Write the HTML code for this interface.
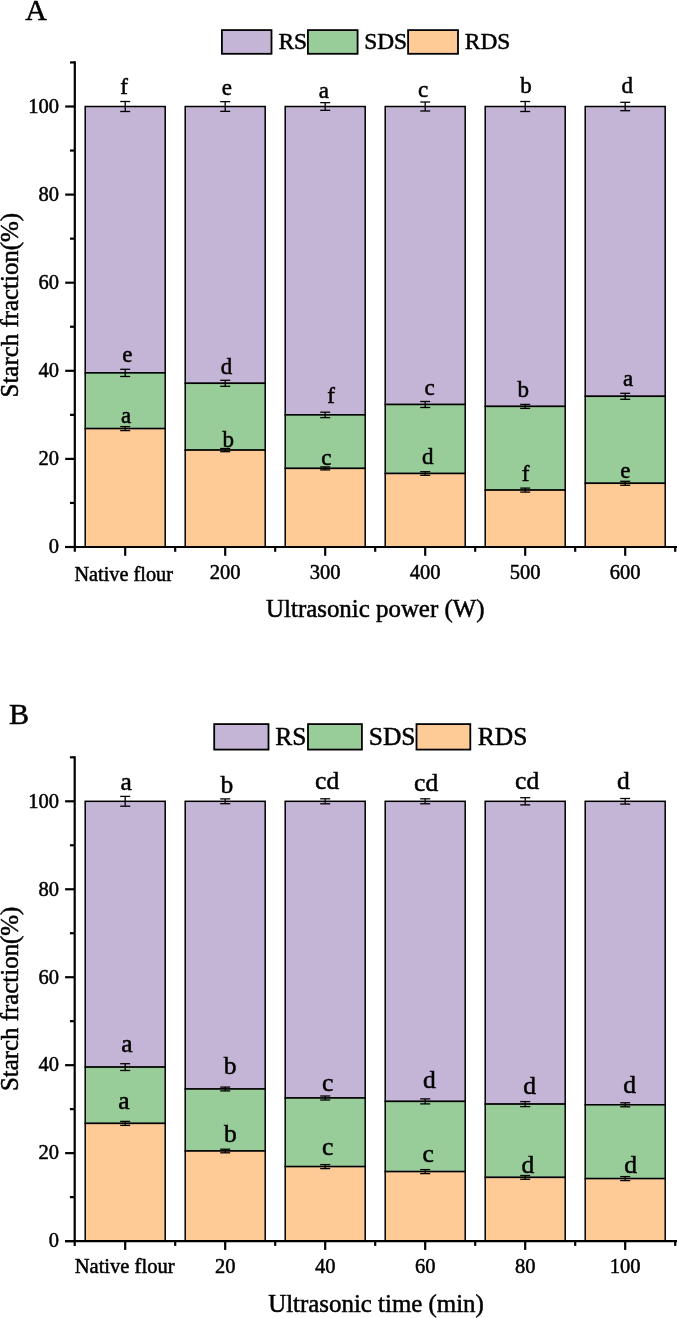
<!DOCTYPE html>
<html><head><meta charset="utf-8"><style>
html,body{margin:0;padding:0;background:#fff;}
body{width:677px;height:1318px;overflow:hidden;}
svg{display:block;will-change:transform;}
text{font-family:"Liberation Serif",serif;fill:#000;stroke:#000;stroke-width:0.5px;}
</style></head><body>
<svg width="677" height="1318" viewBox="0 0 677 1318">
<rect x="85.20" y="106.50" width="80.00" height="266.40" fill="#C4B4D6" stroke="#000" stroke-width="1.5"/>
<rect x="85.20" y="372.90" width="80.00" height="55.70" fill="#98CC98" stroke="#000" stroke-width="1.5"/>
<rect x="85.20" y="428.60" width="80.00" height="118.40" fill="#FECB97" stroke="#000" stroke-width="1.5"/>
<rect x="185.20" y="106.50" width="80.00" height="276.80" fill="#C4B4D6" stroke="#000" stroke-width="1.5"/>
<rect x="185.20" y="383.30" width="80.00" height="66.80" fill="#98CC98" stroke="#000" stroke-width="1.5"/>
<rect x="185.20" y="450.10" width="80.00" height="96.90" fill="#FECB97" stroke="#000" stroke-width="1.5"/>
<rect x="285.20" y="106.50" width="80.00" height="308.40" fill="#C4B4D6" stroke="#000" stroke-width="1.5"/>
<rect x="285.20" y="414.90" width="80.00" height="53.50" fill="#98CC98" stroke="#000" stroke-width="1.5"/>
<rect x="285.20" y="468.40" width="80.00" height="78.60" fill="#FECB97" stroke="#000" stroke-width="1.5"/>
<rect x="385.20" y="106.50" width="80.00" height="298.00" fill="#C4B4D6" stroke="#000" stroke-width="1.5"/>
<rect x="385.20" y="404.50" width="80.00" height="69.00" fill="#98CC98" stroke="#000" stroke-width="1.5"/>
<rect x="385.20" y="473.50" width="80.00" height="73.50" fill="#FECB97" stroke="#000" stroke-width="1.5"/>
<rect x="485.20" y="106.50" width="80.00" height="299.90" fill="#C4B4D6" stroke="#000" stroke-width="1.5"/>
<rect x="485.20" y="406.40" width="80.00" height="83.70" fill="#98CC98" stroke="#000" stroke-width="1.5"/>
<rect x="485.20" y="490.10" width="80.00" height="56.90" fill="#FECB97" stroke="#000" stroke-width="1.5"/>
<rect x="585.20" y="106.50" width="80.00" height="289.80" fill="#C4B4D6" stroke="#000" stroke-width="1.5"/>
<rect x="585.20" y="396.30" width="80.00" height="87.00" fill="#98CC98" stroke="#000" stroke-width="1.5"/>
<rect x="585.20" y="483.30" width="80.00" height="63.70" fill="#FECB97" stroke="#000" stroke-width="1.5"/>
<line x1="125.20" y1="101.50" x2="125.20" y2="111.50" stroke="#000" stroke-width="1.3"/>
<line x1="120.20" y1="101.50" x2="130.20" y2="101.50" stroke="#000" stroke-width="1.3"/>
<line x1="120.20" y1="111.50" x2="130.20" y2="111.50" stroke="#000" stroke-width="1.3"/>
<line x1="125.20" y1="369.30" x2="125.20" y2="376.50" stroke="#000" stroke-width="1.3"/>
<line x1="120.20" y1="369.30" x2="130.20" y2="369.30" stroke="#000" stroke-width="1.3"/>
<line x1="120.20" y1="376.50" x2="130.20" y2="376.50" stroke="#000" stroke-width="1.3"/>
<line x1="125.20" y1="426.60" x2="125.20" y2="430.60" stroke="#000" stroke-width="1.3"/>
<line x1="120.20" y1="426.60" x2="130.20" y2="426.60" stroke="#000" stroke-width="1.3"/>
<line x1="120.20" y1="430.60" x2="130.20" y2="430.60" stroke="#000" stroke-width="1.3"/>
<line x1="225.20" y1="101.65" x2="225.20" y2="111.35" stroke="#000" stroke-width="1.3"/>
<line x1="220.20" y1="101.65" x2="230.20" y2="101.65" stroke="#000" stroke-width="1.3"/>
<line x1="220.20" y1="111.35" x2="230.20" y2="111.35" stroke="#000" stroke-width="1.3"/>
<line x1="225.20" y1="380.30" x2="225.20" y2="386.30" stroke="#000" stroke-width="1.3"/>
<line x1="220.20" y1="380.30" x2="230.20" y2="380.30" stroke="#000" stroke-width="1.3"/>
<line x1="220.20" y1="386.30" x2="230.20" y2="386.30" stroke="#000" stroke-width="1.3"/>
<line x1="225.20" y1="448.50" x2="225.20" y2="451.70" stroke="#000" stroke-width="1.3"/>
<line x1="220.20" y1="448.50" x2="230.20" y2="448.50" stroke="#000" stroke-width="1.3"/>
<line x1="220.20" y1="451.70" x2="230.20" y2="451.70" stroke="#000" stroke-width="1.3"/>
<line x1="325.20" y1="102.65" x2="325.20" y2="110.35" stroke="#000" stroke-width="1.3"/>
<line x1="320.20" y1="102.65" x2="330.20" y2="102.65" stroke="#000" stroke-width="1.3"/>
<line x1="320.20" y1="110.35" x2="330.20" y2="110.35" stroke="#000" stroke-width="1.3"/>
<line x1="325.20" y1="412.20" x2="325.20" y2="417.60" stroke="#000" stroke-width="1.3"/>
<line x1="320.20" y1="412.20" x2="330.20" y2="412.20" stroke="#000" stroke-width="1.3"/>
<line x1="320.20" y1="417.60" x2="330.20" y2="417.60" stroke="#000" stroke-width="1.3"/>
<line x1="325.20" y1="466.90" x2="325.20" y2="469.90" stroke="#000" stroke-width="1.3"/>
<line x1="320.20" y1="466.90" x2="330.20" y2="466.90" stroke="#000" stroke-width="1.3"/>
<line x1="320.20" y1="469.90" x2="330.20" y2="469.90" stroke="#000" stroke-width="1.3"/>
<line x1="425.20" y1="102.00" x2="425.20" y2="111.00" stroke="#000" stroke-width="1.3"/>
<line x1="420.20" y1="102.00" x2="430.20" y2="102.00" stroke="#000" stroke-width="1.3"/>
<line x1="420.20" y1="111.00" x2="430.20" y2="111.00" stroke="#000" stroke-width="1.3"/>
<line x1="425.20" y1="401.50" x2="425.20" y2="407.50" stroke="#000" stroke-width="1.3"/>
<line x1="420.20" y1="401.50" x2="430.20" y2="401.50" stroke="#000" stroke-width="1.3"/>
<line x1="420.20" y1="407.50" x2="430.20" y2="407.50" stroke="#000" stroke-width="1.3"/>
<line x1="425.20" y1="471.70" x2="425.20" y2="475.30" stroke="#000" stroke-width="1.3"/>
<line x1="420.20" y1="471.70" x2="430.20" y2="471.70" stroke="#000" stroke-width="1.3"/>
<line x1="420.20" y1="475.30" x2="430.20" y2="475.30" stroke="#000" stroke-width="1.3"/>
<line x1="525.20" y1="101.50" x2="525.20" y2="111.50" stroke="#000" stroke-width="1.3"/>
<line x1="520.20" y1="101.50" x2="530.20" y2="101.50" stroke="#000" stroke-width="1.3"/>
<line x1="520.20" y1="111.50" x2="530.20" y2="111.50" stroke="#000" stroke-width="1.3"/>
<line x1="525.20" y1="404.40" x2="525.20" y2="408.40" stroke="#000" stroke-width="1.3"/>
<line x1="520.20" y1="404.40" x2="530.20" y2="404.40" stroke="#000" stroke-width="1.3"/>
<line x1="520.20" y1="408.40" x2="530.20" y2="408.40" stroke="#000" stroke-width="1.3"/>
<line x1="525.20" y1="488.10" x2="525.20" y2="492.10" stroke="#000" stroke-width="1.3"/>
<line x1="520.20" y1="488.10" x2="530.20" y2="488.10" stroke="#000" stroke-width="1.3"/>
<line x1="520.20" y1="492.10" x2="530.20" y2="492.10" stroke="#000" stroke-width="1.3"/>
<line x1="625.20" y1="102.30" x2="625.20" y2="110.70" stroke="#000" stroke-width="1.3"/>
<line x1="620.20" y1="102.30" x2="630.20" y2="102.30" stroke="#000" stroke-width="1.3"/>
<line x1="620.20" y1="110.70" x2="630.20" y2="110.70" stroke="#000" stroke-width="1.3"/>
<line x1="625.20" y1="393.30" x2="625.20" y2="399.30" stroke="#000" stroke-width="1.3"/>
<line x1="620.20" y1="393.30" x2="630.20" y2="393.30" stroke="#000" stroke-width="1.3"/>
<line x1="620.20" y1="399.30" x2="630.20" y2="399.30" stroke="#000" stroke-width="1.3"/>
<line x1="625.20" y1="481.30" x2="625.20" y2="485.30" stroke="#000" stroke-width="1.3"/>
<line x1="620.20" y1="481.30" x2="630.20" y2="481.30" stroke="#000" stroke-width="1.3"/>
<line x1="620.20" y1="485.30" x2="630.20" y2="485.30" stroke="#000" stroke-width="1.3"/>
<line x1="74.80" y1="61.35" x2="74.80" y2="551.80" stroke="#000" stroke-width="2.2"/>
<line x1="65.20" y1="547.00" x2="677.00" y2="547.00" stroke="#000" stroke-width="2.2"/>
<line x1="65.20" y1="547.00" x2="74.80" y2="547.00" stroke="#000" stroke-width="2.2"/>
<line x1="65.20" y1="458.90" x2="74.80" y2="458.90" stroke="#000" stroke-width="2.2"/>
<line x1="65.20" y1="370.80" x2="74.80" y2="370.80" stroke="#000" stroke-width="2.2"/>
<line x1="65.20" y1="282.70" x2="74.80" y2="282.70" stroke="#000" stroke-width="2.2"/>
<line x1="65.20" y1="194.60" x2="74.80" y2="194.60" stroke="#000" stroke-width="2.2"/>
<line x1="65.20" y1="106.50" x2="74.80" y2="106.50" stroke="#000" stroke-width="2.2"/>
<line x1="70.00" y1="502.95" x2="74.80" y2="502.95" stroke="#000" stroke-width="2.2"/>
<line x1="70.00" y1="414.85" x2="74.80" y2="414.85" stroke="#000" stroke-width="2.2"/>
<line x1="70.00" y1="326.75" x2="74.80" y2="326.75" stroke="#000" stroke-width="2.2"/>
<line x1="70.00" y1="238.65" x2="74.80" y2="238.65" stroke="#000" stroke-width="2.2"/>
<line x1="70.00" y1="150.55" x2="74.80" y2="150.55" stroke="#000" stroke-width="2.2"/>
<line x1="70.00" y1="62.45" x2="74.80" y2="62.45" stroke="#000" stroke-width="2.2"/>
<line x1="125.20" y1="547.00" x2="125.20" y2="555.80" stroke="#000" stroke-width="2.2"/>
<line x1="225.20" y1="547.00" x2="225.20" y2="555.80" stroke="#000" stroke-width="2.2"/>
<line x1="325.20" y1="547.00" x2="325.20" y2="555.80" stroke="#000" stroke-width="2.2"/>
<line x1="425.20" y1="547.00" x2="425.20" y2="555.80" stroke="#000" stroke-width="2.2"/>
<line x1="525.20" y1="547.00" x2="525.20" y2="555.80" stroke="#000" stroke-width="2.2"/>
<line x1="625.20" y1="547.00" x2="625.20" y2="555.80" stroke="#000" stroke-width="2.2"/>
<line x1="175.20" y1="547.00" x2="175.20" y2="551.80" stroke="#000" stroke-width="2.2"/>
<line x1="275.20" y1="547.00" x2="275.20" y2="551.80" stroke="#000" stroke-width="2.2"/>
<line x1="375.20" y1="547.00" x2="375.20" y2="551.80" stroke="#000" stroke-width="2.2"/>
<line x1="475.20" y1="547.00" x2="475.20" y2="551.80" stroke="#000" stroke-width="2.2"/>
<line x1="575.20" y1="547.00" x2="575.20" y2="551.80" stroke="#000" stroke-width="2.2"/>
<line x1="675.20" y1="547.00" x2="675.20" y2="551.80" stroke="#000" stroke-width="2.2"/>
<text x="48.77" y="553.30" font-size="20.5" >0</text>
<text x="38.52" y="465.20" font-size="20.5" >20</text>
<text x="38.52" y="377.10" font-size="20.5" >40</text>
<text x="38.52" y="289.00" font-size="20.5" >60</text>
<text x="38.52" y="200.90" font-size="20.5" >80</text>
<text x="28.27" y="112.80" font-size="20.5" >100</text>
<text x="74.49" y="580.80" font-size="20.25" >Native flour</text>
<text x="225.20" y="578.80" font-size="20.5" text-anchor="middle">200</text>
<text x="325.20" y="578.80" font-size="20.5" text-anchor="middle">300</text>
<text x="425.20" y="578.80" font-size="20.5" text-anchor="middle">400</text>
<text x="525.20" y="578.80" font-size="20.5" text-anchor="middle">500</text>
<text x="625.20" y="578.80" font-size="20.5" text-anchor="middle">600</text>
<text x="266.10" y="617.30" font-size="24.9" >Ultrasonic power (W)</text>
<text transform="translate(17.70,397.42) rotate(-90)" font-size="24.9">Starch fraction(%)</text>
<text x="25.30" y="19.80" font-size="30" >A</text>
<rect x="221.90" y="30.10" width="49.60" height="23.70" fill="#C4B4D6" stroke="#000" stroke-width="1.8"/>
<text x="278.40" y="49.20" font-size="23.4" >RS</text>
<rect x="307.90" y="30.10" width="49.70" height="23.70" fill="#98CC98" stroke="#000" stroke-width="1.8"/>
<text x="364.18" y="49.20" font-size="23.4" >SDS</text>
<rect x="408.10" y="30.10" width="49.90" height="23.70" fill="#FECB97" stroke="#000" stroke-width="1.8"/>
<text x="464.80" y="49.20" font-size="23.4" >RDS</text>
<text x="120.30" y="93.70" font-size="23" >f</text>
<text x="221.82" y="94.80" font-size="23" >e</text>
<text x="318.85" y="97.70" font-size="23" >a</text>
<text x="417.97" y="97.20" font-size="23" >c</text>
<text x="520.21" y="93.30" font-size="23" >b</text>
<text x="621.56" y="93.00" font-size="23" >d</text>
<text x="122.17" y="362.00" font-size="23" >e</text>
<text x="220.76" y="373.80" font-size="23" >d</text>
<text x="327.15" y="402.60" font-size="23" >f</text>
<text x="424.42" y="394.90" font-size="23" >c</text>
<text x="517.51" y="396.60" font-size="23" >b</text>
<text x="622.90" y="386.10" font-size="23" >a</text>
<text x="121.05" y="423.10" font-size="23" >a</text>
<text x="222.61" y="446.70" font-size="23" >b</text>
<text x="321.37" y="464.60" font-size="23" >c</text>
<text x="422.11" y="463.80" font-size="23" >d</text>
<text x="521.75" y="480.70" font-size="23" >f</text>
<text x="620.33" y="477.50" font-size="23" >e</text>
<rect x="85.20" y="801.30" width="80.00" height="265.80" fill="#C4B4D6" stroke="#000" stroke-width="1.5"/>
<rect x="85.20" y="1067.10" width="80.00" height="56.30" fill="#98CC98" stroke="#000" stroke-width="1.5"/>
<rect x="85.20" y="1123.40" width="80.00" height="117.70" fill="#FECB97" stroke="#000" stroke-width="1.5"/>
<rect x="185.20" y="801.30" width="80.00" height="287.70" fill="#C4B4D6" stroke="#000" stroke-width="1.5"/>
<rect x="185.20" y="1089.00" width="80.00" height="62.00" fill="#98CC98" stroke="#000" stroke-width="1.5"/>
<rect x="185.20" y="1151.00" width="80.00" height="90.10" fill="#FECB97" stroke="#000" stroke-width="1.5"/>
<rect x="285.20" y="801.30" width="80.00" height="296.70" fill="#C4B4D6" stroke="#000" stroke-width="1.5"/>
<rect x="285.20" y="1098.00" width="80.00" height="68.60" fill="#98CC98" stroke="#000" stroke-width="1.5"/>
<rect x="285.20" y="1166.60" width="80.00" height="74.50" fill="#FECB97" stroke="#000" stroke-width="1.5"/>
<rect x="385.20" y="801.30" width="80.00" height="300.10" fill="#C4B4D6" stroke="#000" stroke-width="1.5"/>
<rect x="385.20" y="1101.40" width="80.00" height="70.20" fill="#98CC98" stroke="#000" stroke-width="1.5"/>
<rect x="385.20" y="1171.60" width="80.00" height="69.50" fill="#FECB97" stroke="#000" stroke-width="1.5"/>
<rect x="485.20" y="801.30" width="80.00" height="302.80" fill="#C4B4D6" stroke="#000" stroke-width="1.5"/>
<rect x="485.20" y="1104.10" width="80.00" height="73.30" fill="#98CC98" stroke="#000" stroke-width="1.5"/>
<rect x="485.20" y="1177.40" width="80.00" height="63.70" fill="#FECB97" stroke="#000" stroke-width="1.5"/>
<rect x="585.20" y="801.30" width="80.00" height="303.50" fill="#C4B4D6" stroke="#000" stroke-width="1.5"/>
<rect x="585.20" y="1104.80" width="80.00" height="73.80" fill="#98CC98" stroke="#000" stroke-width="1.5"/>
<rect x="585.20" y="1178.60" width="80.00" height="62.50" fill="#FECB97" stroke="#000" stroke-width="1.5"/>
<line x1="125.20" y1="796.40" x2="125.20" y2="806.20" stroke="#000" stroke-width="1.3"/>
<line x1="120.20" y1="796.40" x2="130.20" y2="796.40" stroke="#000" stroke-width="1.3"/>
<line x1="120.20" y1="806.20" x2="130.20" y2="806.20" stroke="#000" stroke-width="1.3"/>
<line x1="125.20" y1="1063.70" x2="125.20" y2="1070.50" stroke="#000" stroke-width="1.3"/>
<line x1="120.20" y1="1063.70" x2="130.20" y2="1063.70" stroke="#000" stroke-width="1.3"/>
<line x1="120.20" y1="1070.50" x2="130.20" y2="1070.50" stroke="#000" stroke-width="1.3"/>
<line x1="125.20" y1="1121.40" x2="125.20" y2="1125.40" stroke="#000" stroke-width="1.3"/>
<line x1="120.20" y1="1121.40" x2="130.20" y2="1121.40" stroke="#000" stroke-width="1.3"/>
<line x1="120.20" y1="1125.40" x2="130.20" y2="1125.40" stroke="#000" stroke-width="1.3"/>
<line x1="225.20" y1="798.90" x2="225.20" y2="803.70" stroke="#000" stroke-width="1.3"/>
<line x1="220.20" y1="798.90" x2="230.20" y2="798.90" stroke="#000" stroke-width="1.3"/>
<line x1="220.20" y1="803.70" x2="230.20" y2="803.70" stroke="#000" stroke-width="1.3"/>
<line x1="225.20" y1="1087.10" x2="225.20" y2="1090.90" stroke="#000" stroke-width="1.3"/>
<line x1="220.20" y1="1087.10" x2="230.20" y2="1087.10" stroke="#000" stroke-width="1.3"/>
<line x1="220.20" y1="1090.90" x2="230.20" y2="1090.90" stroke="#000" stroke-width="1.3"/>
<line x1="225.20" y1="1149.20" x2="225.20" y2="1152.80" stroke="#000" stroke-width="1.3"/>
<line x1="220.20" y1="1149.20" x2="230.20" y2="1149.20" stroke="#000" stroke-width="1.3"/>
<line x1="220.20" y1="1152.80" x2="230.20" y2="1152.80" stroke="#000" stroke-width="1.3"/>
<line x1="325.20" y1="798.80" x2="325.20" y2="803.80" stroke="#000" stroke-width="1.3"/>
<line x1="320.20" y1="798.80" x2="330.20" y2="798.80" stroke="#000" stroke-width="1.3"/>
<line x1="320.20" y1="803.80" x2="330.20" y2="803.80" stroke="#000" stroke-width="1.3"/>
<line x1="325.20" y1="1096.00" x2="325.20" y2="1100.00" stroke="#000" stroke-width="1.3"/>
<line x1="320.20" y1="1096.00" x2="330.20" y2="1096.00" stroke="#000" stroke-width="1.3"/>
<line x1="320.20" y1="1100.00" x2="330.20" y2="1100.00" stroke="#000" stroke-width="1.3"/>
<line x1="325.20" y1="1164.60" x2="325.20" y2="1168.60" stroke="#000" stroke-width="1.3"/>
<line x1="320.20" y1="1164.60" x2="330.20" y2="1164.60" stroke="#000" stroke-width="1.3"/>
<line x1="320.20" y1="1168.60" x2="330.20" y2="1168.60" stroke="#000" stroke-width="1.3"/>
<line x1="425.20" y1="798.80" x2="425.20" y2="803.80" stroke="#000" stroke-width="1.3"/>
<line x1="420.20" y1="798.80" x2="430.20" y2="798.80" stroke="#000" stroke-width="1.3"/>
<line x1="420.20" y1="803.80" x2="430.20" y2="803.80" stroke="#000" stroke-width="1.3"/>
<line x1="425.20" y1="1098.90" x2="425.20" y2="1103.90" stroke="#000" stroke-width="1.3"/>
<line x1="420.20" y1="1098.90" x2="430.20" y2="1098.90" stroke="#000" stroke-width="1.3"/>
<line x1="420.20" y1="1103.90" x2="430.20" y2="1103.90" stroke="#000" stroke-width="1.3"/>
<line x1="425.20" y1="1169.60" x2="425.20" y2="1173.60" stroke="#000" stroke-width="1.3"/>
<line x1="420.20" y1="1169.60" x2="430.20" y2="1169.60" stroke="#000" stroke-width="1.3"/>
<line x1="420.20" y1="1173.60" x2="430.20" y2="1173.60" stroke="#000" stroke-width="1.3"/>
<line x1="525.20" y1="797.70" x2="525.20" y2="804.90" stroke="#000" stroke-width="1.3"/>
<line x1="520.20" y1="797.70" x2="530.20" y2="797.70" stroke="#000" stroke-width="1.3"/>
<line x1="520.20" y1="804.90" x2="530.20" y2="804.90" stroke="#000" stroke-width="1.3"/>
<line x1="525.20" y1="1101.60" x2="525.20" y2="1106.60" stroke="#000" stroke-width="1.3"/>
<line x1="520.20" y1="1101.60" x2="530.20" y2="1101.60" stroke="#000" stroke-width="1.3"/>
<line x1="520.20" y1="1106.60" x2="530.20" y2="1106.60" stroke="#000" stroke-width="1.3"/>
<line x1="525.20" y1="1175.50" x2="525.20" y2="1179.30" stroke="#000" stroke-width="1.3"/>
<line x1="520.20" y1="1175.50" x2="530.20" y2="1175.50" stroke="#000" stroke-width="1.3"/>
<line x1="520.20" y1="1179.30" x2="530.20" y2="1179.30" stroke="#000" stroke-width="1.3"/>
<line x1="625.20" y1="798.50" x2="625.20" y2="804.10" stroke="#000" stroke-width="1.3"/>
<line x1="620.20" y1="798.50" x2="630.20" y2="798.50" stroke="#000" stroke-width="1.3"/>
<line x1="620.20" y1="804.10" x2="630.20" y2="804.10" stroke="#000" stroke-width="1.3"/>
<line x1="625.20" y1="1102.80" x2="625.20" y2="1106.80" stroke="#000" stroke-width="1.3"/>
<line x1="620.20" y1="1102.80" x2="630.20" y2="1102.80" stroke="#000" stroke-width="1.3"/>
<line x1="620.20" y1="1106.80" x2="630.20" y2="1106.80" stroke="#000" stroke-width="1.3"/>
<line x1="625.20" y1="1176.60" x2="625.20" y2="1180.60" stroke="#000" stroke-width="1.3"/>
<line x1="620.20" y1="1176.60" x2="630.20" y2="1176.60" stroke="#000" stroke-width="1.3"/>
<line x1="620.20" y1="1180.60" x2="630.20" y2="1180.60" stroke="#000" stroke-width="1.3"/>
<line x1="74.70" y1="756.22" x2="74.70" y2="1245.90" stroke="#000" stroke-width="2.2"/>
<line x1="65.10" y1="1241.10" x2="677.00" y2="1241.10" stroke="#000" stroke-width="2.2"/>
<line x1="65.10" y1="1241.10" x2="74.70" y2="1241.10" stroke="#000" stroke-width="2.2"/>
<line x1="65.10" y1="1153.14" x2="74.70" y2="1153.14" stroke="#000" stroke-width="2.2"/>
<line x1="65.10" y1="1065.18" x2="74.70" y2="1065.18" stroke="#000" stroke-width="2.2"/>
<line x1="65.10" y1="977.22" x2="74.70" y2="977.22" stroke="#000" stroke-width="2.2"/>
<line x1="65.10" y1="889.26" x2="74.70" y2="889.26" stroke="#000" stroke-width="2.2"/>
<line x1="65.10" y1="801.30" x2="74.70" y2="801.30" stroke="#000" stroke-width="2.2"/>
<line x1="69.90" y1="1197.12" x2="74.70" y2="1197.12" stroke="#000" stroke-width="2.2"/>
<line x1="69.90" y1="1109.16" x2="74.70" y2="1109.16" stroke="#000" stroke-width="2.2"/>
<line x1="69.90" y1="1021.20" x2="74.70" y2="1021.20" stroke="#000" stroke-width="2.2"/>
<line x1="69.90" y1="933.24" x2="74.70" y2="933.24" stroke="#000" stroke-width="2.2"/>
<line x1="69.90" y1="845.28" x2="74.70" y2="845.28" stroke="#000" stroke-width="2.2"/>
<line x1="69.90" y1="757.32" x2="74.70" y2="757.32" stroke="#000" stroke-width="2.2"/>
<line x1="125.20" y1="1241.10" x2="125.20" y2="1249.90" stroke="#000" stroke-width="2.2"/>
<line x1="225.20" y1="1241.10" x2="225.20" y2="1249.90" stroke="#000" stroke-width="2.2"/>
<line x1="325.20" y1="1241.10" x2="325.20" y2="1249.90" stroke="#000" stroke-width="2.2"/>
<line x1="425.20" y1="1241.10" x2="425.20" y2="1249.90" stroke="#000" stroke-width="2.2"/>
<line x1="525.20" y1="1241.10" x2="525.20" y2="1249.90" stroke="#000" stroke-width="2.2"/>
<line x1="625.20" y1="1241.10" x2="625.20" y2="1249.90" stroke="#000" stroke-width="2.2"/>
<line x1="175.20" y1="1241.10" x2="175.20" y2="1245.90" stroke="#000" stroke-width="2.2"/>
<line x1="275.20" y1="1241.10" x2="275.20" y2="1245.90" stroke="#000" stroke-width="2.2"/>
<line x1="375.20" y1="1241.10" x2="375.20" y2="1245.90" stroke="#000" stroke-width="2.2"/>
<line x1="475.20" y1="1241.10" x2="475.20" y2="1245.90" stroke="#000" stroke-width="2.2"/>
<line x1="575.20" y1="1241.10" x2="575.20" y2="1245.90" stroke="#000" stroke-width="2.2"/>
<line x1="675.20" y1="1241.10" x2="675.20" y2="1245.90" stroke="#000" stroke-width="2.2"/>
<text x="48.77" y="1247.40" font-size="20.5" >0</text>
<text x="38.52" y="1159.44" font-size="20.5" >20</text>
<text x="38.52" y="1071.48" font-size="20.5" >40</text>
<text x="38.52" y="983.52" font-size="20.5" >60</text>
<text x="38.52" y="895.56" font-size="20.5" >80</text>
<text x="28.27" y="807.60" font-size="20.5" >100</text>
<text x="74.68" y="1272.80" font-size="20.55" >Native flour</text>
<text x="225.20" y="1272.50" font-size="20.5" text-anchor="middle">20</text>
<text x="325.20" y="1272.50" font-size="20.5" text-anchor="middle">40</text>
<text x="425.20" y="1272.50" font-size="20.5" text-anchor="middle">60</text>
<text x="525.20" y="1272.50" font-size="20.5" text-anchor="middle">80</text>
<text x="625.20" y="1272.50" font-size="20.5" text-anchor="middle">100</text>
<text x="268.20" y="1312.00" font-size="24.9" >Ultrasonic time (min)</text>
<text transform="translate(17.70,1091.12) rotate(-90)" font-size="24.9">Starch fraction(%)</text>
<text x="9.10" y="723.70" font-size="30" >B</text>
<rect x="214.20" y="724.10" width="54.30" height="25.50" fill="#C4B4D6" stroke="#000" stroke-width="1.8"/>
<text x="275.34" y="745.30" font-size="25.5" >RS</text>
<rect x="308.00" y="724.10" width="53.90" height="25.50" fill="#98CC98" stroke="#000" stroke-width="1.8"/>
<text x="368.74" y="745.30" font-size="25.5" >SDS</text>
<rect x="416.50" y="724.10" width="53.80" height="25.50" fill="#FECB97" stroke="#000" stroke-width="1.8"/>
<text x="477.84" y="745.30" font-size="25.5" >RDS</text>
<text x="120.52" y="789.50" font-size="25.5" >a</text>
<text x="220.38" y="792.50" font-size="25.5" >b</text>
<text x="315.07" y="789.40" font-size="25.5" >cd</text>
<text x="414.12" y="790.80" font-size="25.5" >cd</text>
<text x="515.07" y="789.40" font-size="25.5" >cd</text>
<text x="616.91" y="789.40" font-size="25.5" >d</text>
<text x="121.32" y="1051.80" font-size="25.5" >a</text>
<text x="223.78" y="1074.40" font-size="25.5" >b</text>
<text x="322.10" y="1090.50" font-size="25.5" >c</text>
<text x="422.91" y="1087.80" font-size="25.5" >d</text>
<text x="523.21" y="1093.70" font-size="25.5" >d</text>
<text x="623.21" y="1092.70" font-size="25.5" >d</text>
<text x="118.27" y="1109.00" font-size="25.5" >a</text>
<text x="224.08" y="1141.60" font-size="25.5" >b</text>
<text x="322.10" y="1155.10" font-size="25.5" >c</text>
<text x="422.45" y="1161.50" font-size="25.5" >c</text>
<text x="521.51" y="1173.30" font-size="25.5" >d</text>
<text x="624.16" y="1173.30" font-size="25.5" >d</text>
</svg>
</body></html>
